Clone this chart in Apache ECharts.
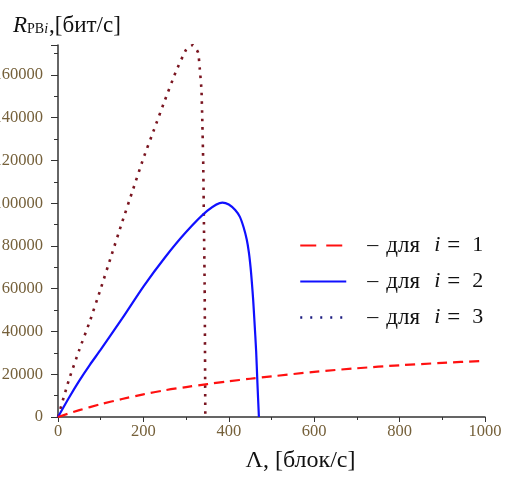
<!DOCTYPE html>
<html>
<head>
<meta charset="utf-8">
<script src="https://cdn.jsdelivr.net/npm/echarts@6/dist/echarts.min.js"></script>
<style>
  html, body { margin: 0; padding: 0; background: #fff; }
  #chart { width: 505px; height: 477px; }
</style>
</head>
<body>
<div id="chart"></div>
<script>
// i = 1 (red dashed)
const lam1 = [0, 50, 100, 150, 200, 250, 300, 350, 400, 450, 500, 600, 700, 800, 900, 1000];
const rate1 = [0, 3200, 6000, 8400, 10600, 12500, 14000, 15400, 16700, 17900, 19000, 21100, 22800, 24200, 25300, 26300];
// i = 2 (blue solid)
const lam2 = [0, 25, 50, 75, 100, 150, 200, 250, 300, 350, 385, 400, 415, 426, 435, 442, 447, 451, 454, 457, 460, 464, 467, 470.5];
const rate2 = [0, 8800, 17000, 24500, 31500, 46000, 61000, 74500, 86500, 96500, 100300, 99400, 96800, 93600, 88500, 83000, 77000, 70000, 63000, 55000, 45000, 31000, 16000, 0];
// i = 3 (dotted)
const lam3 = [0, 25, 50, 75, 100, 125, 150, 175, 200, 225, 250, 275, 300, 316, 328, 332, 336, 338, 340, 341, 342, 343.5, 345];
const rate3 = [0, 17000, 31500, 45000, 60000, 75500, 91000, 106000, 121000, 134500, 148000, 161000, 171800, 174000, 170500, 163000, 153000, 138000, 120000, 104000, 86000, 60000, 0];

const seriesNames = ['i = 1', 'i = 2', 'i = 3'];
const xTicks = { min: 0, max: 1000, step: 200 };
const yTicks = { min: 0, max: 174000, step: 20000 };

const pairs = (xs, ys) => xs.map((x, k) => [x, ys[k]]);

const serif = '"Liberation Serif", "Times New Roman", serif';
const labelColor = '#75603a';
const ink = '#111';

const chart = echarts.init(document.getElementById('chart'), null, { renderer: 'canvas' });

const txt = (size, extra) => Object.assign({ fontFamily: serif, fontSize: size, fontWeight: 'normal', color: ink }, extra || {});

chart.setOption({
  animation: false,
  backgroundColor: '#fff',
  title: {
    text: '{R|R}{s|PB}{i|i}{m|,[бит/с]}',
    left: 13,
    top: 12,
    padding: 0,
    textStyle: {
      fontWeight: 'normal',
      rich: {
        R: txt(23, { fontStyle: 'italic', verticalAlign: 'bottom', lineHeight: 25 }),
        s: txt(14, { verticalAlign: 'bottom', lineHeight: 25, padding: [0, 0, 1, 0] }),
        i: txt(14, { fontStyle: 'italic', verticalAlign: 'bottom', lineHeight: 25, padding: [0, 1, 1, 0] }),
        m: txt(23, { verticalAlign: 'bottom', lineHeight: 25 })
      }
    }
  },
  grid: { left: 58, right: 20, top: 45, bottom: 60, containLabel: false, outerBoundsMode: 'none' },
  legend: {
    orient: 'vertical',
    left: 299,
    top: 234,
    padding: 0,
    itemWidth: 46,
    itemHeight: 14,
    itemGap: 13,
    selectedMode: false,
    itemStyle: { opacity: 0 },
    data: [
      { name: seriesNames[0], lineStyle: { type: [16, 10], width: 2 } },
      { name: seriesNames[1], lineStyle: { width: 2 } },
      { name: seriesNames[2], lineStyle: { color: '#1a1a80', type: [2, 8], width: 2.5 } }
    ],
    formatter: name => '{p| }{d|–}{t|для}{i|i}{e|=}{n|' + name.split('= ')[1] + '}',
    textStyle: {
      rich: {
        p: txt(22, { width: 16 }),
        d: txt(22, { width: 19 }),
        t: txt(23, { width: 48 }),
        i: txt(22, { width: 13, fontStyle: 'italic' }),
        e: txt(23, { width: 25 }),
        n: txt(22)
      }
    }
  },
  xAxis: {
    type: 'value',
    min: xTicks.min,
    max: xTicks.max,
    interval: xTicks.step,
    name: 'Λ, [блок/с]',
    nameLocation: 'middle',
    nameGap: 32,
    nameTextStyle: txt(24, { padding: [0, 0, 0, 58] }),
    axisLine: { lineStyle: { color: '#333', width: 1.5 } },
    axisTick: { length: 5, lineStyle: { color: '#333' } },
    minorTick: { show: true, splitNumber: 2, length: 3, lineStyle: { color: '#333' } },
    axisLabel: { margin: 6, fontFamily: serif, fontSize: 16.5, color: labelColor, formatter: v => String(v) },
    splitLine: { show: false }
  },
  yAxis: {
    type: 'value',
    min: yTicks.min,
    max: yTicks.max,
    interval: yTicks.step,
    axisLine: { show: true, lineStyle: { color: '#333', width: 1.5 } },
    axisTick: { show: true, length: 7, lineStyle: { color: '#333' } },
    minorTick: { show: true, splitNumber: 2, length: 4, lineStyle: { color: '#333' } },
    axisLabel: { margin: 15, fontFamily: serif, fontSize: 16.5, color: labelColor, showMaxLabel: false, formatter: v => String(v) },
    splitLine: { show: false }
  },
  series: [
    {
      name: seriesNames[0],
      type: 'line',
      data: pairs(lam1, rate1),
      symbol: 'none',
      smooth: 0.3,
      lineStyle: { color: '#ff1010', width: 2.2, type: [10, 6] },
      itemStyle: { color: '#ff1010' },
      z: 3
    },
    {
      name: seriesNames[1],
      type: 'line',
      data: pairs(lam2, rate2),
      symbol: 'none',
      smooth: 0.25,
      lineStyle: { color: '#1010ff', width: 2.2 },
      itemStyle: { color: '#1010ff' },
      z: 2
    },
    {
      name: seriesNames[2],
      type: 'line',
      data: pairs(lam3, rate3),
      symbol: 'none',
      smooth: 0.15,
      lineStyle: { color: '#7a1520', width: 2.6, type: [2.6, 6] },
      itemStyle: { color: '#7a1520' },
      z: 1
    }
  ]
});
</script>
</body>
</html>
